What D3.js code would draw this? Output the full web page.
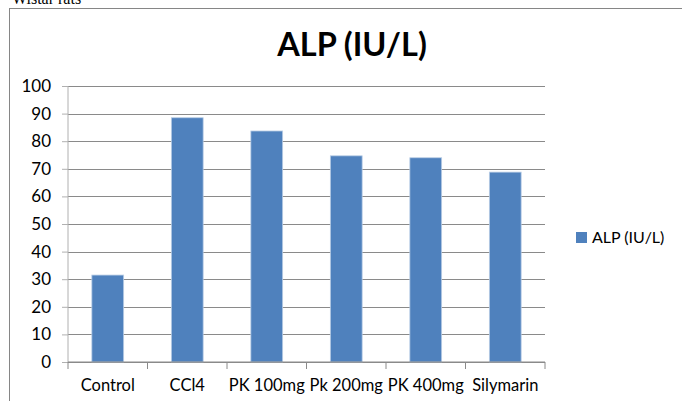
<html>
<head>
<script src="https://d3js.org/d3.v7.min.js"></script>
<style>
  body { margin: 0; background: #fff; }
  .gridlines line { stroke: #8a8a8a; }
  .gridlines .domain { display: none; }
  text { font-family: Lato, "Open Sans", sans-serif; }
</style>
</head>
<body>
<svg id="chart" width="682" height="401"></svg>
<script>
  const categories = ["Control", "CCl4", "PK 100mg", "Pk 200mg", "PK 400mg", "Silymarin"];
  const values = [31.5, 88.5, 83.7, 74.7, 74.0, 68.8];
  const yTicks = [0, 10, 20, 30, 40, 50, 60, 70, 80, 90, 100];
  const seriesName = "ALP (IU/L)";

  const svg = d3.select("#chart");
  const margins = { top: 86, left: 68, right: 137, bottom: 39 };
  const chartWidth = 682 - margins.left - margins.right;
  const chartHeight = 401 - margins.top - margins.bottom;

  // caption above the frame, cut by the page edge like the source
  svg.append("text")
    .attr("x", 12).attr("y", 4)
    .style("font-family", "'Liberation Serif', serif")
    .style("font-size", "16px")
    .text("Wistar rats");

  // outer frame
  svg.append("rect")
    .attr("x", 9.5).attr("y", 8.5)
    .attr("width", 690).attr("height", 420)
    .attr("fill", "none").attr("stroke", "#868686");

  svg.append("text")
    .attr("x", 352).attr("y", 56)
    .attr("text-anchor", "middle")
    .style("font-size", "32.5px").style("font-weight", "bold")
    .text("ALP (IU/L)");

  const xScale = d3.scaleBand().domain(categories).range([0, chartWidth]).paddingInner(0.6).paddingOuter(0.3);
  const yScale = d3.scaleLinear().domain([0, 100]).range([chartHeight, 0]);

  const chartArea = svg.append("g").attr("transform", `translate(${margins.left},${margins.top})`);

  chartArea.append("g").attr("class", "gridlines")
    .call(d3.axisLeft(yScale).tickValues(yTicks).tickFormat("").tickSize(-chartWidth))
    .selectAll("line").attr("shape-rendering", "crispEdges");

  chartArea.selectAll("rect.bar").data(categories)
    .join("rect")
    .attr("class", "bar")
    .attr("x", d => xScale(d))
    .attr("width", xScale.bandwidth())
    .attr("y", (d, i) => yScale(values[i]))
    .attr("height", (d, i) => chartHeight - yScale(values[i]))
    .attr("fill", "#4f81bd")
    .attr("stroke", "#b9cde5").attr("stroke-width", 0.8);

  // y axis
  const leftAxis = chartArea.append("g")
    .call(d3.axisLeft(yScale).tickValues(yTicks).tickSize(6).tickPadding(11));
  leftAxis.select(".domain").attr("stroke", "#b0b0b0").attr("d", `M0,0V${chartHeight}`);
  leftAxis.selectAll("line").attr("stroke", "#b0b0b0");
  leftAxis.selectAll("text").style("font-size", "17px").attr("fill", "#000")
    .style("font-family", "Lato, sans-serif");

  // x axis line with ticks at category boundaries
  const bounds = d3.range(categories.length + 1).map(i => i * chartWidth / categories.length);
  const bottom = chartArea.append("g").attr("transform", `translate(0,${chartHeight})`);
  bottom.append("line").attr("x1", 0).attr("x2", chartWidth).attr("y1", 0).attr("y2", 0)
    .attr("stroke", "#8a8a8a");
  bottom.selectAll("line.tick").data(bounds).join("line")
    .attr("class", "tick")
    .attr("x1", d => d).attr("x2", d => d).attr("y1", 0).attr("y2", 7)
    .attr("stroke", "#8a8a8a");
  bottom.selectAll("text").data(categories).join("text")
    .attr("x", d => xScale(d) + xScale.bandwidth() / 2)
    .attr("y", 29)
    .attr("text-anchor", "middle")
    .style("font-size", "16.5px")
    .text(d => d);

  // legend
  const legend = svg.append("g").attr("transform", "translate(576,232)");
  legend.append("rect").attr("width", 11).attr("height", 11).attr("fill", "#4f81bd");
  legend.append("text").attr("x", 16).attr("y", 11).style("font-size", "16px").text(seriesName);
</script>
</body>
</html>
